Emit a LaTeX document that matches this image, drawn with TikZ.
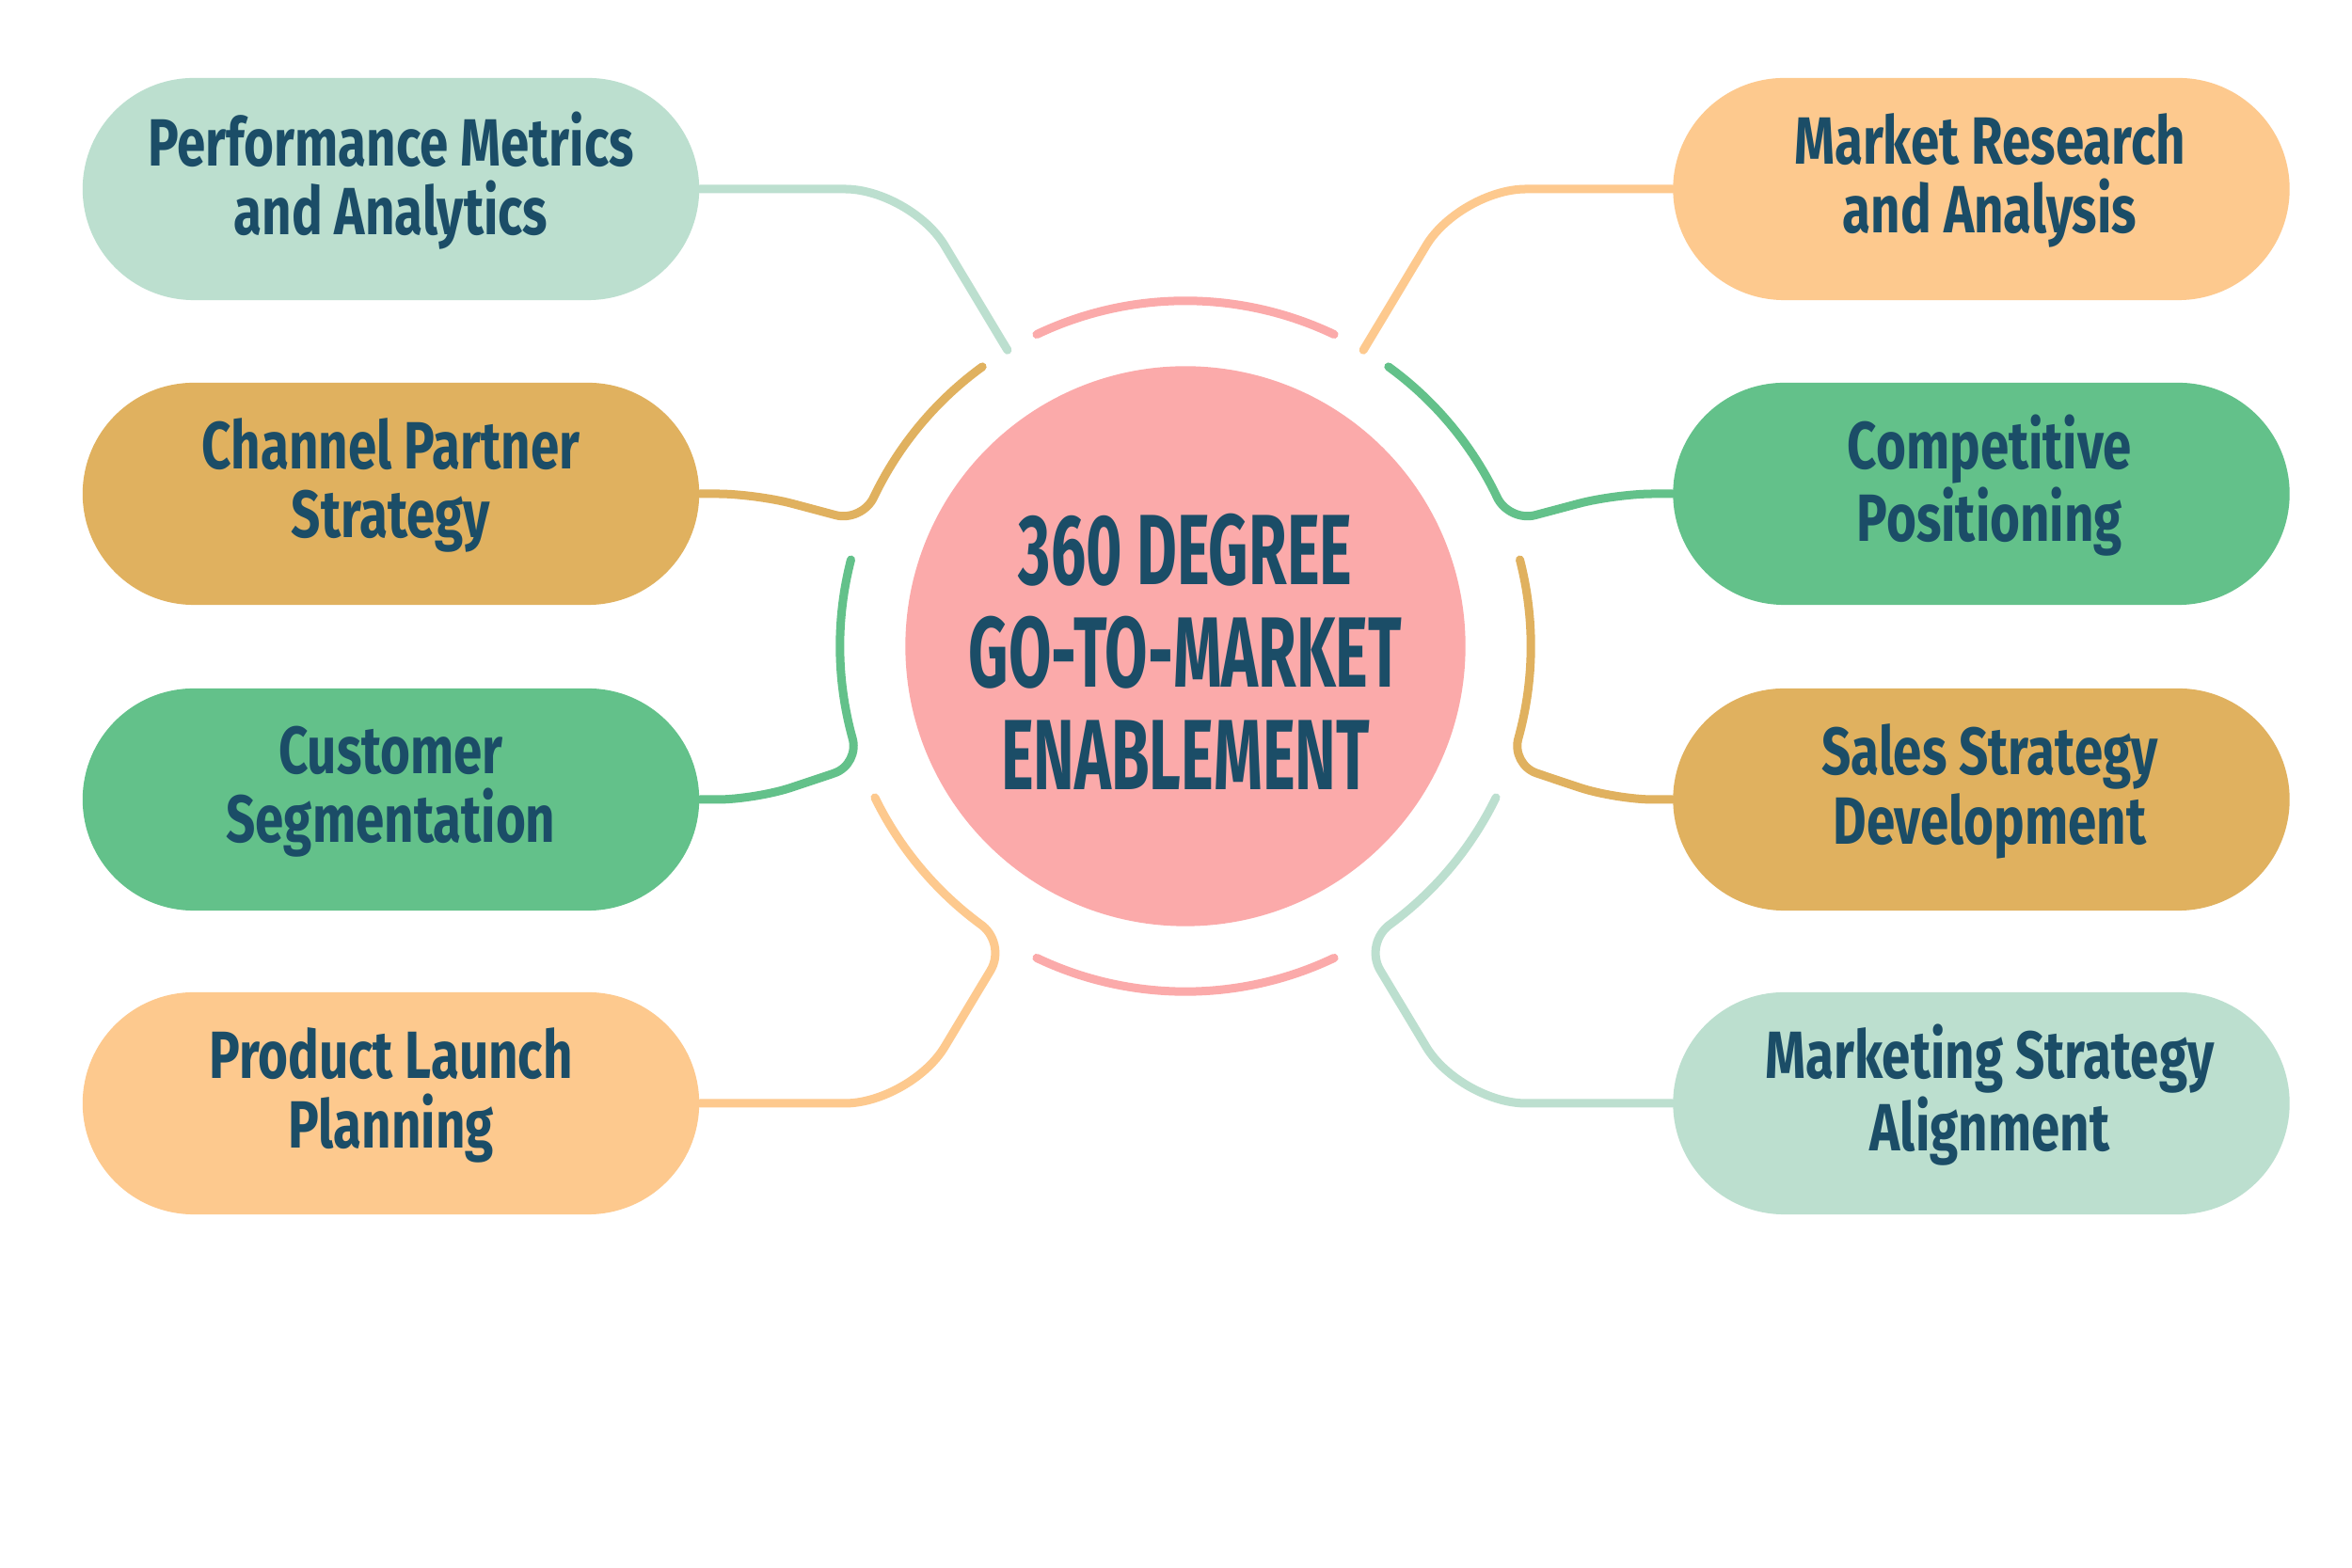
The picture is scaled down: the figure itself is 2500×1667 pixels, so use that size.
\documentclass[tikz,border=0pt]{standalone}
\usepackage{fontspec}
\usetikzlibrary{calc}
\newfontfamily\boxfont[FakeStretch=0.77]{Fira Sans}
\newfontfamily\hubfont[FakeStretch=0.62]{Fira Sans}
\definecolor{mint}{HTML}{BCDFCF}
\definecolor{gold}{HTML}{E0B15F}
\definecolor{leaf}{HTML}{63C18A}
\definecolor{peach}{HTML}{FDC98E}
\definecolor{rose}{HTML}{FBAAAA}
\definecolor{ink}{HTML}{1B4D67}
\newcommand\dn{\rule[-0.33cm]{0pt}{0pt}}
\newcommand\rs{\hspace*{0.18cm}}
\tikzset{
  card/.style={rectangle, rounded corners=1.18cm, minimum width=6.55cm, minimum height=2.36cm,
    inner sep=0pt, align=center, text=ink, font=\boxfont\bfseries\fontsize{20.2pt}{20.8pt}\selectfont},
  hub/.style={circle, minimum size=5.95cm, inner sep=0pt, align=center, text=ink,
    font=\hubfont\bfseries\fontsize{30.2pt}{31pt}\selectfont},
  link/.style={line width=0.09cm, line cap=round},
}
\begin{document}
\begin{tikzpicture}[x=0.01cm,y=0.01cm]
\fill[white] (0,0) rectangle (2500,1667);
\useasboundingbox (0,0) rectangle (2500,1667);

% boxes
\node[card, fill=mint]  (b1) at (415.5,1466) {Performance Metrics\\and Analytics\dn};
\node[card, fill=gold]  (b2) at (415.5,1142) {Channel Partner\\Strategy\dn};
\node[card, fill=leaf]  (b3) at (415.5,817)  {Customer\\Segmentation\dn};
\node[card, fill=peach] (b4) at (415.5,494)  {Product Launch\\Planning\dn};
\node[card, fill=peach] (b5) at (2106,1466) {\rs Market Research\\\rs and Analysis\dn};
\node[card, fill=leaf]  (b6) at (2106,1142) {\rs Competitive\\\rs Positioning\dn};
\node[card, fill=gold]  (b7) at (2106,817)  {\rs Sales Strategy\\\rs Development\dn};
\node[card, fill=mint]  (b8) at (2106,494)  {\rs Marketing Strategy\\\rs Alignment\dn};

% hub
\node[hub, fill=rose] (hubc) at (1260,980) {};
\node[hub, yshift=-0.06cm] (hubt) at (hubc.center) {360 DEGREE\\GO-TO-MARKET\\ENABLEMENT};
\coordinate (C) at (hubc.center);

% pink ring arcs
\draw[link, rose] ($(C)+(64.5:3.67cm)$) arc[start angle=64.5, end angle=115.5, radius=3.67cm];
\draw[link, rose] ($(C)+(244.5:3.67cm)$) arc[start angle=244.5, end angle=295.5, radius=3.67cm];

% ---- left side ----
% mint (b1)
\coordinate (m1J) at (968,1466);
\coordinate (m1E) at ($(C)+(121:3.67cm)$);
\coordinate (m1a) at ($(m1J)!0.7cm!(b1.east)$);
\coordinate (m1b) at ($(m1J)!0.7cm!(m1E)$);
\draw[link, mint] (b1.east) -- (m1a) .. controls ($(m1a)!0.55!(m1J)$) and ($(m1b)!0.55!(m1J)$) .. (m1b) -- (m1E);

% gold (b2)
\coordinate (g1J) at (803,1142);
\coordinate (g1K) at ($(C)+(159:3.67cm)$);
\coordinate (g1a) at ($(g1J)!0.4cm!(b2.east)$);
\coordinate (g1b) at ($(g1J)!0.4cm!(g1K)$);
\coordinate (g1c) at ($(g1K)!0.3cm!(g1J)$);
\coordinate (g1d) at ($(C)+(154.3:3.67cm)$);
\draw[link, gold] (b2.east) -- (g1a) .. controls ($(g1a)!0.55!(g1J)$) and ($(g1b)!0.55!(g1J)$) .. (g1b)
  -- (g1c) .. controls ($(g1c)!0.55!(g1K)$) and ($(g1d)!0.55!(g1K)$) .. (g1d)
  arc[start angle=154.3, end angle=126, radius=3.67cm];

% green (b3)
\coordinate (l1J) at (803,817);
\coordinate (l1K) at ($(C)+(200:3.67cm)$);
\coordinate (l1a) at ($(l1J)!0.4cm!(b3.east)$);
\coordinate (l1b) at ($(l1J)!0.4cm!(l1K)$);
\coordinate (l1c) at ($(l1K)!0.3cm!(l1J)$);
\coordinate (l1d) at ($(C)+(195.3:3.67cm)$);
\draw[link, leaf] (b3.east) -- (l1a) .. controls ($(l1a)!0.55!(l1J)$) and ($(l1b)!0.55!(l1J)$) .. (l1b)
  -- (l1c) .. controls ($(l1c)!0.55!(l1K)$) and ($(l1d)!0.55!(l1K)$) .. (l1d)
  arc[start angle=195.3, end angle=165.5, radius=3.67cm];

% peach (b4)
\coordinate (p1J) at (968,494);
\coordinate (p1K) at ($(C)+(239:3.67cm)$);
\coordinate (p1a) at ($(p1J)!0.7cm!(b4.east)$);
\coordinate (p1b) at ($(p1J)!0.7cm!(p1K)$);
\coordinate (p1c) at ($(p1K)!0.35cm!(p1J)$);
\coordinate (p1d) at ($(C)+(233.5:3.67cm)$);
\draw[link, peach] (b4.east) -- (p1a) .. controls ($(p1a)!0.55!(p1J)$) and ($(p1b)!0.55!(p1J)$) .. (p1b)
  -- (p1c) .. controls ($(p1c)!0.55!(p1K)$) and ($(p1d)!0.55!(p1K)$) .. (p1d)
  arc[start angle=233.5, end angle=206, radius=3.67cm];

% ---- right side ----
% peach (b5)
\coordinate (p2J) at (1552,1466);
\coordinate (p2E) at ($(C)+(59:3.67cm)$);
\coordinate (p2a) at ($(p2J)!0.7cm!(b5.west)$);
\coordinate (p2b) at ($(p2J)!0.7cm!(p2E)$);
\draw[link, peach] (b5.west) -- (p2a) .. controls ($(p2a)!0.55!(p2J)$) and ($(p2b)!0.55!(p2J)$) .. (p2b) -- (p2E);

% green (b6)
\coordinate (l2J) at (1717,1142);
\coordinate (l2K) at ($(C)+(21:3.67cm)$);
\coordinate (l2a) at ($(l2J)!0.4cm!(b6.west)$);
\coordinate (l2b) at ($(l2J)!0.4cm!(l2K)$);
\coordinate (l2c) at ($(l2K)!0.3cm!(l2J)$);
\coordinate (l2d) at ($(C)+(25.7:3.67cm)$);
\draw[link, leaf] (b6.west) -- (l2a) .. controls ($(l2a)!0.55!(l2J)$) and ($(l2b)!0.55!(l2J)$) .. (l2b)
  -- (l2c) .. controls ($(l2c)!0.55!(l2K)$) and ($(l2d)!0.55!(l2K)$) .. (l2d)
  arc[start angle=25.7, end angle=54, radius=3.67cm];

% gold (b7)
\coordinate (g2J) at (1717,817);
\coordinate (g2K) at ($(C)+(-20:3.67cm)$);
\coordinate (g2a) at ($(g2J)!0.4cm!(b7.west)$);
\coordinate (g2b) at ($(g2J)!0.4cm!(g2K)$);
\coordinate (g2c) at ($(g2K)!0.3cm!(g2J)$);
\coordinate (g2d) at ($(C)+(-15.3:3.67cm)$);
\draw[link, gold] (b7.west) -- (g2a) .. controls ($(g2a)!0.55!(g2J)$) and ($(g2b)!0.55!(g2J)$) .. (g2b)
  -- (g2c) .. controls ($(g2c)!0.55!(g2K)$) and ($(g2d)!0.55!(g2K)$) .. (g2d)
  arc[start angle=-15.3, end angle=14.5, radius=3.67cm];

% mint (b8)
\coordinate (m2J) at (1552,494);
\coordinate (m2K) at ($(C)+(-59:3.67cm)$);
\coordinate (m2a) at ($(m2J)!0.7cm!(b8.west)$);
\coordinate (m2b) at ($(m2J)!0.7cm!(m2K)$);
\coordinate (m2c) at ($(m2K)!0.35cm!(m2J)$);
\coordinate (m2d) at ($(C)+(-53.5:3.67cm)$);
\draw[link, mint] (b8.west) -- (m2a) .. controls ($(m2a)!0.55!(m2J)$) and ($(m2b)!0.55!(m2J)$) .. (m2b)
  -- (m2c) .. controls ($(m2c)!0.55!(m2K)$) and ($(m2d)!0.55!(m2K)$) .. (m2d)
  arc[start angle=-53.5, end angle=-26, radius=3.67cm];
\end{tikzpicture}
\end{document}
